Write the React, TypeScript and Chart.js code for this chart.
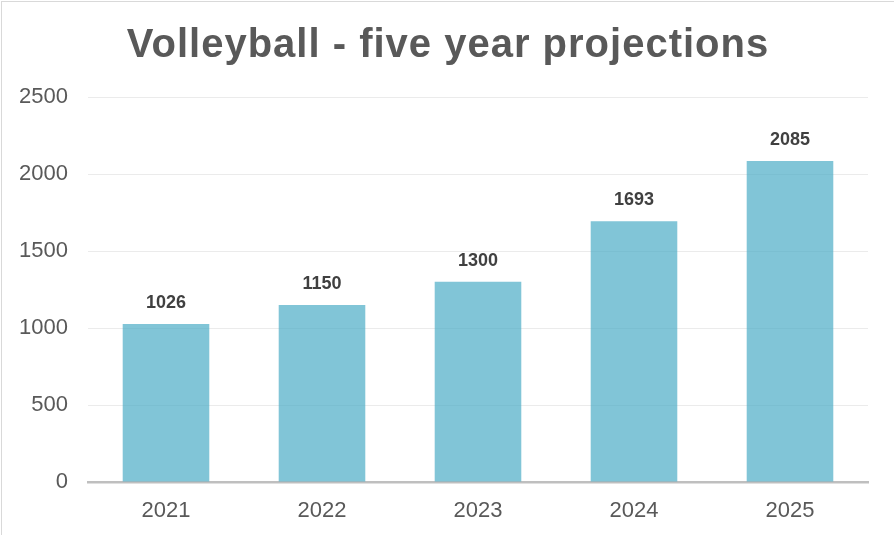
import React, { useEffect, useRef } from "react";
import { Chart, registerables } from "chart.js";

Chart.register(...registerables);

const TITLE = "Volleyball - five year projections";
const categories = ["2021", "2022", "2023", "2024", "2025"];
const values = [1026, 1150, 1300, 1693, 2085];
const yTicks = [0, 500, 1000, 1500, 2000, 2500];

const FONT = "'Liberation Sans', Arial, sans-serif";

const titlePlugin = {
  id: "customTitle",
  afterDraw(chart: any) {
    const ctx = chart.ctx;
    ctx.save();
    ctx.font = `bold 40px ${FONT}`;
    (ctx as any).letterSpacing = "1px";
    ctx.fillStyle = "#595959";
    ctx.textAlign = "center";
    ctx.textBaseline = "alphabetic";
    ctx.fillText(TITLE, 448, 57);
    ctx.restore();
  },
};

const labelPlugin = {
  id: "barLabels",
  afterDatasetsDraw(chart: any) {
    const ctx = chart.ctx;
    const meta = chart.getDatasetMeta(0);
    ctx.save();
    ctx.font = `bold 18px ${FONT}`;
    ctx.fillStyle = "#404040";
    ctx.textAlign = "center";
    ctx.textBaseline = "middle";
    meta.data.forEach((bar: any, i: number) => {
      ctx.fillText(String(values[i]), bar.x, bar.y - 21);
    });
    ctx.restore();
  },
};

export default function App() {
  const ref = useRef<HTMLCanvasElement>(null);
  useEffect(() => {
    if (!ref.current) return;
    const chart = new Chart(ref.current, {
      type: "bar",
      data: {
        labels: categories,
        datasets: [
          {
            data: values,
            backgroundColor: "rgba(75,172,198,0.7)",
            borderWidth: 0,
            barPercentage: 1,
            categoryPercentage: 0.555,
          },
        ],
      },
      options: {
        animation: false,
        responsive: false,
        maintainAspectRatio: false,
        layout: { padding: { top: 97, right: 26, bottom: 0, left: 0 } },
        plugins: {
          legend: { display: false },
          title: { display: false },
          tooltip: { enabled: false },
        },
        scales: {
          x: {
            grid: { display: false, drawTicks: false },
            border: { display: true, color: "#bfbfbf", width: 2.5 },
            ticks: {
              color: "#595959",
              font: { family: FONT, size: 22 },
              padding: 16,
            },
            afterFit: (s: any) => {
              s.height = 53;
            },
          },
          y: {
            min: 0,
            max: 2500,
            afterBuildTicks: (s: any) => {
              s.ticks = yTicks.map((v) => ({ value: v }));
            },
            grid: { color: "#ebebeb", lineWidth: 1, drawTicks: false },
            border: { display: false },
            ticks: {
              color: "#595959",
              font: { family: FONT, size: 22 },
              padding: 20,
              callback: (v: any) => String(v),
            },
            afterFit: (s: any) => {
              s.width = 88;
            },
          },
        },
      },
      plugins: [titlePlugin, labelPlugin],
    });
    return () => chart.destroy();
  }, []);
  return (
    <div
      style={{
        position: "absolute",
        left: 0,
        top: 0,
        width: 894,
        height: 535,
        overflow: "hidden",
        background: "#fff",
      }}
    >
      <canvas ref={ref} width={894} height={535} style={{ display: "block" }} />
      <div
        style={{
          position: "absolute",
          left: 1,
          top: 1,
          width: 910,
          height: 560,
          border: "1px solid #d9d9d9",
          pointerEvents: "none",
        }}
      />
    </div>
  );
}
